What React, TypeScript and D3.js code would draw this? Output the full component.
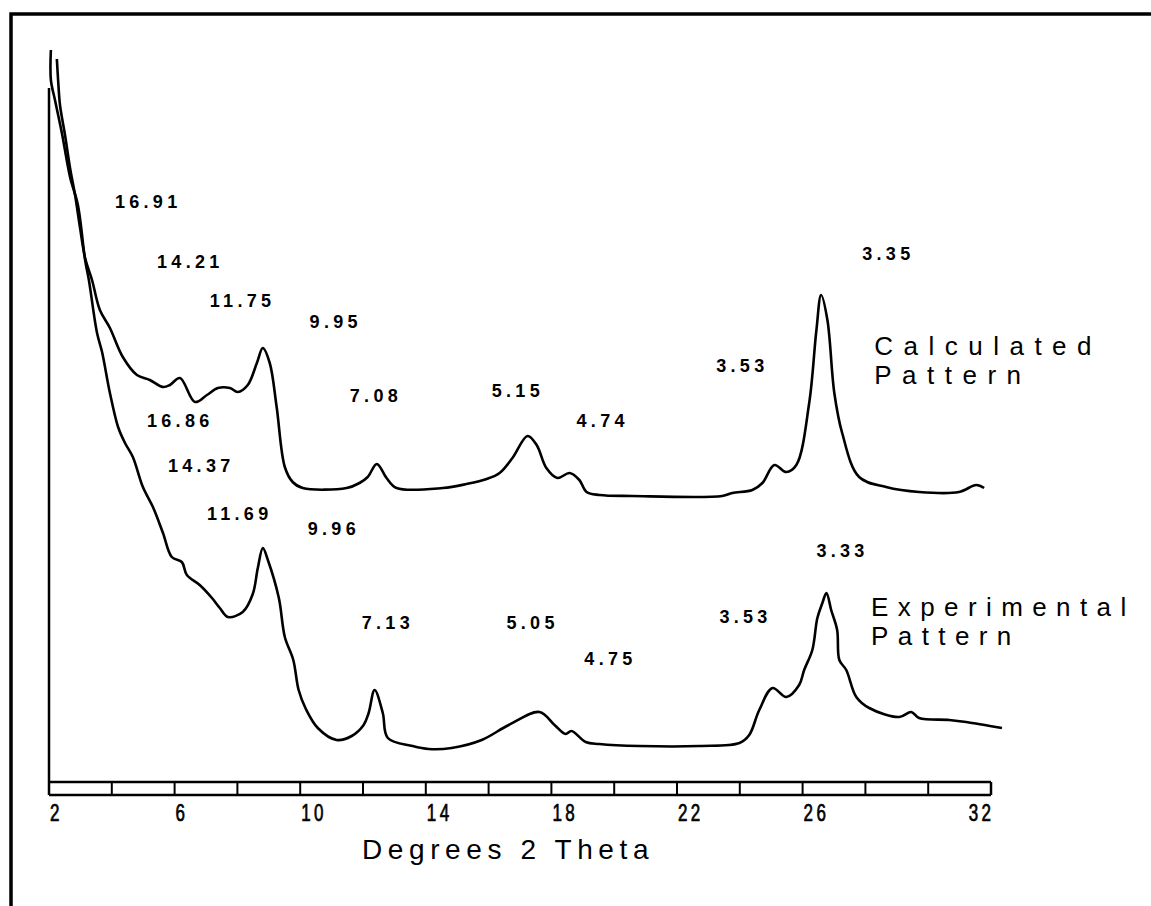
import React from "react";
import * as d3 from "d3";

// degrees 2 theta / intensity
const calcTheta = [2.25, 2.29, 2.35, 2.51, 2.67, 2.83, 2.99, 3.15, 3.37, 3.62, 3.94, 4.35, 4.8, 5.21, 5.63, 5.85, 6.17, 6.65, 7.03, 7.38, 7.76, 8.01, 8.33, 8.62, 8.81, 9.03, 9.25, 9.51, 9.76, 10.08, 11.48, 11.89, 12.15, 12.44, 12.75, 13.07, 14.54, 15.3, 15.94, 16.35, 16.76, 17.24, 17.53, 17.84, 18.19, 18.58, 18.89, 19.12, 19.53, 20.58, 23.44, 23.76, 24.4, 24.72, 25.1, 25.48, 25.8, 26.21, 26.44, 26.59, 26.79, 27.01, 27.26, 27.8, 28.66, 29.71, 30.98, 31.53, 31.78];
const calcIntensity = [723, 702, 677, 647, 614, 587, 554, 524, 502, 472, 454, 425, 407, 402, 395, 397, 404, 380, 387, 394, 394, 390, 397, 419, 434, 419, 375, 315, 300, 294, 294, 299, 305, 318, 304, 294, 294, 298, 303, 309, 324, 346, 337, 314, 304, 309, 302, 290, 287, 286, 286, 289, 292, 299, 317, 310, 317, 379, 452, 487, 462, 389, 349, 305, 295, 290, 290, 297, 294];

const expTheta = [2.06, 2.06, 2.19, 2.41, 2.67, 2.92, 3.15, 3.27, 3.53, 3.69, 3.94, 4.2, 4.42, 4.67, 4.99, 5.31, 5.63, 5.91, 6.23, 6.39, 6.8, 7.19, 7.44, 7.7, 8.17, 8.49, 8.65, 8.81, 8.97, 9.32, 9.51, 9.78, 9.95, 10.18, 10.56, 11.16, 11.64, 12.02, 12.18, 12.37, 12.63, 12.79, 13.58, 14.09, 14.82, 15.78, 16.64, 17.62, 18.1, 18.45, 18.64, 19.09, 19.53, 20.8, 22.71, 23.99, 24.3, 24.62, 25.04, 25.48, 25.89, 26.05, 26.31, 26.47, 26.63, 26.76, 26.91, 27.1, 27.17, 27.39, 27.71, 28.12, 29.08, 29.46, 29.71, 30.67, 31.21, 32.35];
const expIntensity = [732, 702, 682, 649, 605, 577, 522, 502, 449, 430, 389, 355, 339, 325, 295, 275, 249, 225, 220, 207, 197, 184, 174, 165, 170, 188, 214, 234, 222, 184, 145, 122, 92, 73, 54, 42, 46, 57, 69, 92, 69, 44, 36, 33, 34, 42, 57, 70, 57, 48, 51, 40, 38, 36, 36, 39, 47, 72, 94, 85, 97, 112, 132, 164, 179, 189, 172, 152, 122, 112, 85, 74, 65, 70, 64, 62, 60, 54];

// d-spacing labels (Angstrom) and where they sit
const calcLabels = ["16.91", "14.21", "11.75", "9.95", "7.08", "5.15", "4.74", "3.53", "3.35"];
const calcLabelTheta = [4.1, 5.44, 7.12, 10.3, 11.58, 16.1, 18.8, 23.25, 27.9];
const calcLabelIntensity = [574, 514, 475, 454, 380, 385, 355, 410, 522];

const expLabels = ["16.86", "14.37", "11.69", "9.96", "7.13", "5.05", "4.75", "3.53", "3.33"];
const expLabelTheta = [5.12, 5.79, 7.03, 10.24, 11.96, 16.57, 19.05, 23.35, 26.44];
const expLabelIntensity = [355, 310, 262, 247, 153, 153, 117, 159, 225];

const tickLabels = [2, 6, 10, 14, 18, 22, 26, 32];
const tickMarks = [4, 6, 8, 10, 12, 14, 16, 18, 20, 22, 24, 26, 28, 30];

export default function App() {
  const W = 1151, H = 906;
  const x = d3.scaleLinear().domain([2, 32]).range([49, 991]);
  const y = d3.scaleLinear().domain([0, 750]).range([782, 32]);
  const axisTop = y(0);
  const axisBot = axisTop + 13;

  const path = (th: number[], it: number[]) =>
    d3.line<number>()
      .x((i) => x(th[i]))
      .y((i) => y(it[i]))
      .curve(d3.curveCatmullRom.alpha(0.5))(d3.range(th.length)) || "";

  const numStyle = {
    fontFamily: "'Liberation Sans', Arial, sans-serif",
    fontWeight: 700,
    fontSize: 18,
    letterSpacing: "4.3px",
  } as React.CSSProperties;

  const bigStyle = {
    fontFamily: "'Liberation Sans', Arial, sans-serif",
    fontWeight: 400,
    fontSize: 26,
    letterSpacing: "10.5px",
  } as React.CSSProperties;

  return (
    <svg
      width={W}
      height={H}
      style={{ position: "absolute", left: 0, top: 0, background: "#fff" }}
    >
      {/* frame */}
      <rect x={11} y={14} width={W + 20} height={H + 20} fill="none" stroke="#000" strokeWidth={3.5} />

      {/* y axis line */}
      <line x1={x(2)} x2={x(2)} y1={88} y2={axisBot} stroke="#000" strokeWidth={2.5} />

      {/* x axis band */}
      <line x1={x(2)} x2={x(32)} y1={axisTop} y2={axisTop} stroke="#000" strokeWidth={2.5} />
      <line x1={x(2)} x2={x(32)} y1={axisBot} y2={axisBot} stroke="#000" strokeWidth={2.5} />
      <line x1={x(32)} x2={x(32)} y1={axisTop} y2={axisBot} stroke="#000" strokeWidth={2.5} />
      {tickMarks.map((t) => (
        <line key={t} x1={x(t)} x2={x(t)} y1={axisTop} y2={axisBot} stroke="#000" strokeWidth={2} />
      ))}
      {tickLabels.map((t, i) => {
        const last = i === tickLabels.length - 1;
        const tx = x(t) + (last ? 0 : 1);
        return (
          <text
            key={t}
            x={0}
            y={0}
            textAnchor={last ? "end" : "start"}
            transform={`translate(${tx},821) scale(0.85,1.2)`}
            stroke="#000"
            strokeWidth={0.6}
            style={{
              fontFamily: "'Liberation Sans', sans-serif",
              fontSize: 20,
            }}
          >
            {last ? "3\u20092" : String(t).split("").join("\u2009")}
          </text>
        );
      })}
      <text x={x(2) + 313} y={859} style={{ ...bigStyle, fontSize: 28, letterSpacing: "5.6px" }}>
        Degrees 2 Theta
      </text>

      {/* patterns */}
      <path d={path(calcTheta, calcIntensity)} fill="none" stroke="#000" strokeWidth={2.6} strokeLinejoin="round" />
      <path d={path(expTheta, expIntensity)} fill="none" stroke="#000" strokeWidth={2.6} strokeLinejoin="round" />

      {calcLabels.map((s, i) => (
        <text key={"c" + i} x={x(calcLabelTheta[i])} y={y(calcLabelIntensity[i])} style={numStyle}>
          {s}
        </text>
      ))}
      {expLabels.map((s, i) => (
        <text key={"e" + i} x={x(expLabelTheta[i])} y={y(expLabelIntensity[i])} style={numStyle}>
          {s}
        </text>
      ))}

      <text x={x(28.28)} y={y(427)} style={bigStyle}>Calculated</text>
      <text x={x(28.28)} y={y(398)} style={bigStyle}>Pattern</text>
      <text x={x(28.18)} y={y(166)} style={{ ...bigStyle, letterSpacing: "9.4px" }}>Experimental</text>
      <text x={x(28.18)} y={y(137)} style={{ ...bigStyle, letterSpacing: "9.4px" }}>Pattern</text>
    </svg>
  );
}
